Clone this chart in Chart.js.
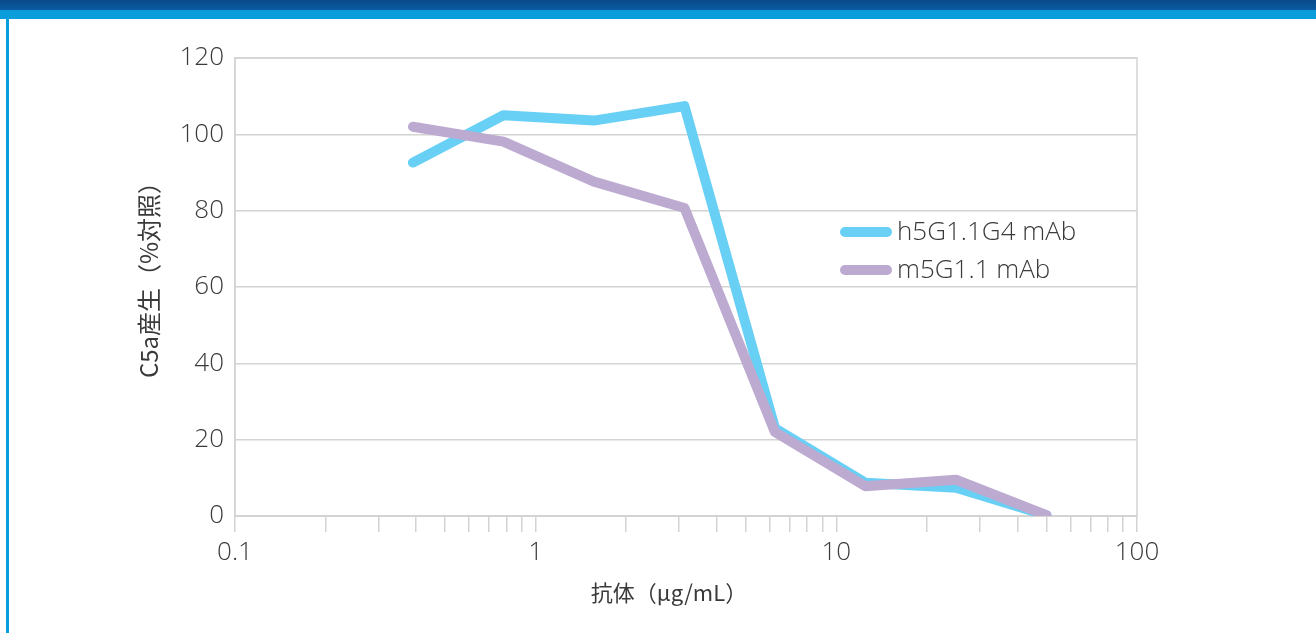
<!DOCTYPE html>
<html>
<head>
<meta charset="utf-8">
<script src="https://cdn.jsdelivr.net/npm/chart.js@4/dist/chart.umd.min.js"></script>
<style>
  html, body { margin: 0; padding: 0; background: #ffffff; }
  #wrap { position: relative; width: 1316px; height: 633px; overflow: hidden; background: #fff; }
  #bandDark { position: absolute; left: 0; top: 0; width: 1316px; height: 10px; background: linear-gradient(#0a4b8c, #0b5aa0); z-index: 2; }
  #bandLight { position: absolute; left: 0; top: 10px; width: 1316px; height: 9px; background: #0a9ddb; z-index: 2; }
  #leftLine { position: absolute; left: 6px; top: 18px; width: 3px; height: 615px; background: #0a9ddb; z-index: 2; }
  canvas { position: absolute; left: 0; top: 0; }
</style>
</head>
<body>
<div id="wrap">
  <div id="bandDark"></div>
  <div id="bandLight"></div>
  <div id="leftLine"></div>
  <canvas id="c" width="1316" height="633"></canvas>
</div>
<script>
// ---- data ----
const concentrations = [0.390625, 0.78125, 1.5625, 3.125, 6.25, 12.5, 25, 50];
const h5G11G4 = [92.6, 105.0, 103.6, 107.4, 23.0, 8.7, 7.4, 0.2];
const m5G11   = [102.0, 98.1, 87.6, 80.7, 22.0, 7.8, 9.5, 0.2];
const seriesLabels = ['h5G1.1G4 mAb', 'm5G1.1 mAb'];
const seriesColors = ['#68cff5', '#bcaad1'];
const xTickValues = [0.1,0.2,0.3,0.4,0.5,0.6,0.7,0.8,0.9,1,2,3,4,5,6,7,8,9,10,20,30,40,50,60,70,80,90,100];
const xLabeledTicks = [0.1, 1, 10, 100];
const yTicksMin = 0, yTicksMax = 120, yStep = 20;
const xTitle = '抗体（μg/mL）';
const yTitle = 'C5a産生（%対照）';

const LATIN = '"Open Sans", "Noto Sans CJK JP", sans-serif';
const CJK = '"Noto Sans CJK JP", "Noto Sans", sans-serif';
const TEXT = '#3a3a3a';
const GRID = '#d3d3d3';

const toXY = (xs, ys) => xs.map((x, i) => ({ x: x, y: ys[i] }));

const frame = {
  id: 'frame',
  beforeDatasetsDraw(chart) {
    const { ctx, chartArea: a } = chart;
    ctx.save();
    ctx.strokeStyle = GRID;
    ctx.lineWidth = 1.5;
    ctx.strokeRect(a.left, a.top, a.right - a.left, a.bottom - a.top);
    ctx.restore();
  }
};

const titlesPlugin = {
  id: 'axisTitles',
  afterDraw(chart) {
    const { ctx } = chart;
    ctx.save();
    ctx.fillStyle = TEXT;
    ctx.font = '22px ' + CJK;
    ctx.textAlign = 'center';
    ctx.textBaseline = 'middle';
    ctx.fillText(xTitle, 669, 593);
    ctx.translate(149, 274);
    ctx.rotate(-Math.PI / 2);
    ctx.font = '24px ' + CJK;
    ctx.fillText(yTitle, 0, 0);
    ctx.restore();
  }
};

const legendPlugin = {
  id: 'customLegend',
  afterDatasetsDraw(chart) {
    const { ctx } = chart;
    const x0 = 840, x1 = 892, tx = 897;
    const ys = [232, 270];
    ctx.save();
    chart.data.datasets.forEach((ds) => {
      const y = ys[ds.legendIndex];
      ctx.strokeStyle = ds.borderColor;
      ctx.lineWidth = 10;
      ctx.lineCap = 'round';
      ctx.beginPath();
      ctx.moveTo(x0 + 5, y);
      ctx.lineTo(x1 - 5, y);
      ctx.stroke();
      ctx.fillStyle = TEXT;
      ctx.font = '300 26px ' + LATIN;
      ctx.textBaseline = 'middle';
      ctx.textAlign = 'left';
      ctx.fillText(ds.label, tx, y + 1);
    });
    ctx.restore();
  }
};

new Chart(document.getElementById('c'), {
  type: 'line',
  data: {
    datasets: [
      { label: seriesLabels[0], legendIndex: 0, data: toXY(concentrations, h5G11G4), borderColor: seriesColors[0], backgroundColor: seriesColors[0], borderWidth: 10, pointRadius: 0, borderCapStyle: 'round', borderJoinStyle: 'round', tension: 0, order: 2 },
      { label: seriesLabels[1], legendIndex: 1, data: toXY(concentrations, m5G11), borderColor: seriesColors[1], backgroundColor: seriesColors[1], borderWidth: 10, pointRadius: 0, borderCapStyle: 'round', borderJoinStyle: 'round', tension: 0, order: 1 }
    ]
  },
  options: {
    responsive: false,
    animation: false,
    events: [],
    layout: { padding: { left: 0, top: 58, right: 179, bottom: 0 } },
    plugins: { legend: { display: false }, tooltip: { enabled: false } },
    scales: {
      x: {
        type: 'logarithmic',
        min: 0.1, max: 100,
        afterBuildTicks(scale) { scale.ticks = xTickValues.map(v => ({ value: v })); },
        afterFit(scale) { scale.height = 117; },
        ticks: {
          autoSkip: false, maxRotation: 0, minRotation: 0,
          padding: 5,
          color: TEXT,
          font: { family: LATIN, size: 26, weight: 300 },
          callback: (v) => xLabeledTicks.includes(v) ? String(v) : ''
        },
        grid: { drawOnChartArea: false, drawTicks: true, tickLength: 16, color: GRID, lineWidth: 1.5 },
        border: { display: true, color: GRID, width: 1.5 },
        title: { display: false }
      },
      y: {
        min: yTicksMin, max: yTicksMax,
        afterFit(scale) { scale.width = 235; },
        ticks: { stepSize: yStep, padding: 11, color: TEXT, font: { family: LATIN, size: 26, weight: 300 } },
        grid: { color: GRID, lineWidth: 1.5, drawTicks: false },
        border: { display: true, color: GRID, width: 1.5 },
        title: { display: false }
      }
    }
  },
  plugins: [frame, legendPlugin, titlesPlugin]
});
</script>
</body>
</html>
